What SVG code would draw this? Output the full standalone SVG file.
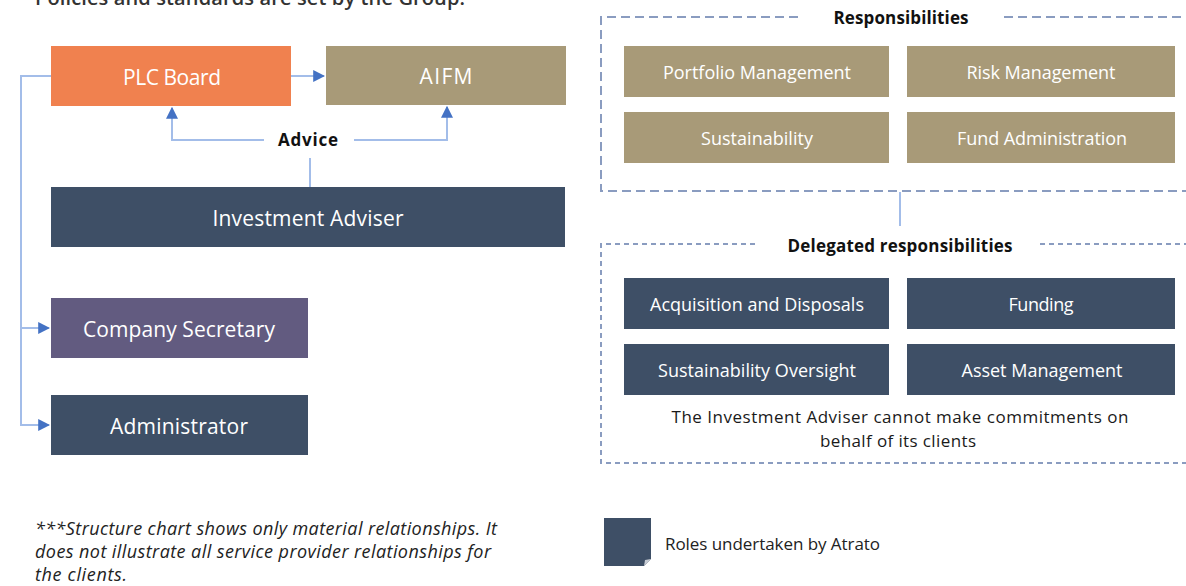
<svg xmlns="http://www.w3.org/2000/svg" width="1186" height="586" viewBox="0 0 1186 586">
  <style>
    .box-text { font-family: "Open Sans", "Liberation Sans", sans-serif; fill: #ffffff; text-anchor: middle; dominant-baseline: central; }
    .big { font-size: 21px; }
    .small { font-size: 18px; }
    .title { font-family: "Open Sans", "Liberation Sans", sans-serif; font-weight: bold; font-size: 17px; fill: #111111; text-anchor: middle; }
    .note { font-family: "Open Sans", "Liberation Sans", sans-serif; font-size: 17px; fill: #1a1a1a; text-anchor: middle; }
    .foot { font-family: "Open Sans", "Liberation Sans", sans-serif; font-style: italic; font-size: 18px; fill: #222222; }
    .link { fill: none; stroke: #a3bde9; stroke-width: 2; }
    .orange { fill: #f0814f; }
    .tan { fill: #a89a78; }
    .slate { fill: #3e4f66; }
    .purple { fill: #625b80; }
    .frame { fill: none; stroke: #8a9cc0; stroke-width: 2; }
  </style>
  <defs>
    <marker id="arrow" viewBox="0 0 10 10" refX="9" refY="5" markerWidth="6" markerHeight="6" orient="auto" markerUnits="strokeWidth">
      <path d="M0,0 L10,5 L0,10 Z" fill="#4472c4"/>
    </marker>
  </defs>

  <rect width="1186" height="586" fill="#ffffff"/>

  <!-- heading, running off the top edge -->
  <text x="35" y="5" font-family="Open Sans, Liberation Sans, sans-serif" font-size="20" font-weight="600" fill="#333333" textLength="430" lengthAdjust="spacing">Policies and standards are set by the Group.</text>

  <!-- connectors -->
  <g id="connectors">
    <path class="link" d="M291,76 H324" marker-end="url(#arrow)"/>
    <path class="link" d="M310,187 V158"/>
    <path class="link" d="M264,140 H172 V108" marker-end="url(#arrow)"/>
    <path class="link" d="M354,140 H447 V107" marker-end="url(#arrow)"/>
    <path class="link" d="M51,76 H21 V425 H49" marker-end="url(#arrow)"/>
    <path class="link" d="M21,328 H49" marker-end="url(#arrow)"/>
    <path class="link" d="M900,192 V226"/>
  </g>

  <text class="title" x="308" y="146" textLength="60" lengthAdjust="spacing">Advice</text>

  <g id="plc-board">
    <rect class="orange" x="51" y="46" width="240" height="60"/>
    <text class="box-text big" x="172" y="77" textLength="98" lengthAdjust="spacing">PLC Board</text>
  </g>
  <g id="aifm">
    <rect class="tan" x="326" y="46" width="240" height="59"/>
    <text class="box-text big" x="446" y="76" textLength="53" lengthAdjust="spacing">AIFM</text>
  </g>
  <g id="investment-adviser">
    <rect class="slate" x="51" y="187" width="514" height="60"/>
    <text class="box-text big" x="308" y="218" textLength="191" lengthAdjust="spacing">Investment Adviser</text>
  </g>
  <g id="company-secretary">
    <rect class="purple" x="51" y="298" width="257" height="60"/>
    <text class="box-text big" x="179" y="329" textLength="192" lengthAdjust="spacing">Company Secretary</text>
  </g>
  <g id="administrator">
    <rect class="slate" x="51" y="395" width="257" height="60"/>
    <text class="box-text big" x="179" y="426" textLength="138" lengthAdjust="spacing">Administrator</text>
  </g>

  <!-- responsibilities frame -->
  <g id="responsibilities">
    <path class="frame" stroke-dasharray="9 5" d="M798,17 H601 V191 H1200"/>
    <path class="frame" stroke-dasharray="9 5" d="M1004,17 H1200"/>
    <text class="title" x="901" y="24" textLength="135" lengthAdjust="spacing">Responsibilities</text>
    <g id="portfolio-management">
      <rect class="tan" x="624" y="46" width="265" height="51"/>
      <text class="box-text small" x="757" y="72" textLength="188" lengthAdjust="spacing">Portfolio Management</text>
    </g>
    <g id="risk-management">
      <rect class="tan" x="907" y="46" width="268" height="51"/>
      <text class="box-text small" x="1041" y="72" textLength="149" lengthAdjust="spacing">Risk Management</text>
    </g>
    <g id="sustainability">
      <rect class="tan" x="624" y="112" width="265" height="51"/>
      <text class="box-text small" x="757" y="138" textLength="112" lengthAdjust="spacing">Sustainability</text>
    </g>
    <g id="fund-administration">
      <rect class="tan" x="907" y="112" width="268" height="51"/>
      <text class="box-text small" x="1042" y="138" textLength="170" lengthAdjust="spacing">Fund Administration</text>
    </g>
  </g>

  <!-- delegated responsibilities frame -->
  <g id="delegated-responsibilities">
    <path class="frame" stroke-dasharray="5 4" d="M755,244 H601 V463 H1200"/>
    <path class="frame" stroke-dasharray="5 4" d="M1040,244 H1200"/>
    <text class="title" x="900" y="252" textLength="225" lengthAdjust="spacing">Delegated responsibilities</text>
    <g id="acquisition-disposals">
      <rect class="slate" x="624" y="278" width="265" height="51"/>
      <text class="box-text small" x="757" y="304" textLength="214" lengthAdjust="spacing">Acquisition and Disposals</text>
    </g>
    <g id="funding">
      <rect class="slate" x="907" y="278" width="268" height="51"/>
      <text class="box-text small" x="1041" y="304" textLength="65" lengthAdjust="spacing">Funding</text>
    </g>
    <g id="sustainability-oversight">
      <rect class="slate" x="624" y="344" width="265" height="51"/>
      <text class="box-text small" x="757" y="370" textLength="198" lengthAdjust="spacing">Sustainability Oversight</text>
    </g>
    <g id="asset-management">
      <rect class="slate" x="907" y="344" width="268" height="51"/>
      <text class="box-text small" x="1042" y="370" textLength="161" lengthAdjust="spacing">Asset Management</text>
    </g>
    <text class="note" x="900" y="423" textLength="457" lengthAdjust="spacing">The Investment Adviser cannot make commitments  on</text>
    <text class="note" x="898" y="447" textLength="156" lengthAdjust="spacing">behalf of its clients</text>
  </g>

  <!-- footnote -->
  <g id="footnote">
    <text class="foot" x="35" y="535" textLength="462" lengthAdjust="spacing">***Structure chart shows only material relationships. It</text>
    <text class="foot" x="35" y="558" textLength="456" lengthAdjust="spacing">does not illustrate all service provider relationships for</text>
    <text class="foot" x="35" y="581" textLength="92" lengthAdjust="spacing">the clients.</text>
  </g>

  <!-- legend -->
  <g id="legend">
    <path class="slate" d="M604,518 H651 V559 L644,566 H604 Z"/>
    <path d="M651,559 L644,566 L645,560 Z" fill="#c7ccd4"/>
    <text x="665" y="550" font-family="Open Sans, Liberation Sans, sans-serif" font-size="17" fill="#222222" textLength="215" lengthAdjust="spacing">Roles undertaken by Atrato</text>
  </g>
</svg>
